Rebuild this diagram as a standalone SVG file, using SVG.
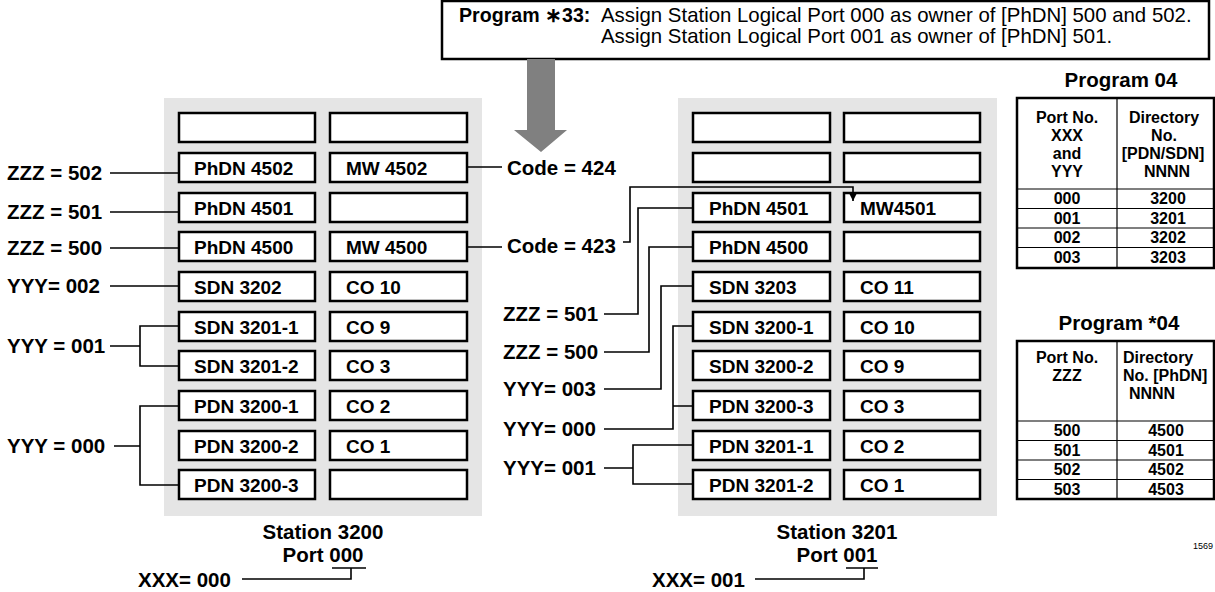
<svg xmlns="http://www.w3.org/2000/svg" width="1215" height="592" viewBox="0 0 1215 592">
<defs>
<style>
text{font-family:"Liberation Sans",Arial,Helvetica,sans-serif;fill:#000}
.panel{fill:#e5e5e5}
.box{fill:#fff;stroke:#000;stroke-width:2.5}
.bt{font-size:19px;font-weight:bold}
.lbl{font-size:20.5px;font-weight:bold}
.cap{font-size:20.5px;font-weight:bold;text-anchor:middle}
.conn{fill:none;stroke:#000;stroke-width:1.6}
.tt{font-size:16px;font-weight:bold;text-anchor:middle}
.tts{font-size:16px;font-weight:bold}
.tline{stroke:#000;stroke-width:1.2}
.tborder{fill:#fff;stroke:#000;stroke-width:2.5}
.top{font-size:20.4px}
</style>
<marker id="ah" viewBox="0 0 10 10" refX="10" refY="5" markerUnits="userSpaceOnUse" markerWidth="12" markerHeight="8" orient="auto">
<path d="M0,0 L10,5 L0,10 z" fill="#000"/>
</marker>
</defs>
<rect width="1215" height="592" fill="#fff"/>

<g id="program33">
<rect x="442" y="1" width="767" height="58" fill="#fff" stroke="#000" stroke-width="2.5"/>
<text x="459" y="22" font-size="19.6px" font-weight="bold">Program ∗33:</text>
<text x="601" y="22" class="top">Assign Station Logical Port 000 as owner of [PhDN] 500 and 502.</text>
<text x="601" y="43" class="top">Assign Station Logical Port 001 as owner of [PhDN] 501.</text>
</g>
<g id="arrow">
<polygon points="527,59 555,59 555,130 567,130 541,152 514,130 527,130" fill="#808080"/>
</g>

<g id="station-3200">
<rect class="panel" x="164" y="98" width="318" height="418"/>
<g id="s0-r1a"><rect class="box" x="179" y="113" width="136" height="29"/></g>
<g id="s0-r1b"><rect class="box" x="330" y="113" width="137" height="29"/></g>
<g id="s0-r2a"><rect class="box" x="179" y="153" width="136" height="29"/><text class="bt" x="194" y="175">PhDN 4502</text></g>
<g id="s0-r2b"><rect class="box" x="330" y="153" width="137" height="29"/><text class="bt" x="346" y="175">MW 4502</text></g>
<g id="s0-r3a"><rect class="box" x="179" y="193" width="136" height="29"/><text class="bt" x="194" y="215">PhDN 4501</text></g>
<g id="s0-r3b"><rect class="box" x="330" y="193" width="137" height="29"/></g>
<g id="s0-r4a"><rect class="box" x="179" y="232" width="136" height="29"/><text class="bt" x="194" y="254">PhDN 4500</text></g>
<g id="s0-r4b"><rect class="box" x="330" y="232" width="137" height="29"/><text class="bt" x="346" y="254">MW 4500</text></g>
<g id="s0-r5a"><rect class="box" x="179" y="272" width="136" height="29"/><text class="bt" x="194" y="294">SDN 3202</text></g>
<g id="s0-r5b"><rect class="box" x="330" y="272" width="137" height="29"/><text class="bt" x="346" y="294">CO 10</text></g>
<g id="s0-r6a"><rect class="box" x="179" y="312" width="136" height="29"/><text class="bt" x="194" y="334">SDN 3201-1</text></g>
<g id="s0-r6b"><rect class="box" x="330" y="312" width="137" height="29"/><text class="bt" x="346" y="334">CO 9</text></g>
<g id="s0-r7a"><rect class="box" x="179" y="351" width="136" height="29"/><text class="bt" x="194" y="373">SDN 3201-2</text></g>
<g id="s0-r7b"><rect class="box" x="330" y="351" width="137" height="29"/><text class="bt" x="346" y="373">CO 3</text></g>
<g id="s0-r8a"><rect class="box" x="179" y="391" width="136" height="29"/><text class="bt" x="194" y="413">PDN 3200-1</text></g>
<g id="s0-r8b"><rect class="box" x="330" y="391" width="137" height="29"/><text class="bt" x="346" y="413">CO 2</text></g>
<g id="s0-r9a"><rect class="box" x="179" y="431" width="136" height="29"/><text class="bt" x="194" y="453">PDN 3200-2</text></g>
<g id="s0-r9b"><rect class="box" x="330" y="431" width="137" height="29"/><text class="bt" x="346" y="453">CO 1</text></g>
<g id="s0-r10a"><rect class="box" x="179" y="470" width="136" height="29"/><text class="bt" x="194" y="492">PDN 3200-3</text></g>
<g id="s0-r10b"><rect class="box" x="330" y="470" width="137" height="29"/></g>
</g>

<g id="station-3201">
<rect class="panel" x="678" y="98" width="319" height="418"/>
<g id="s1-r1a"><rect class="box" x="693" y="113" width="137" height="29"/></g>
<g id="s1-r1b"><rect class="box" x="844" y="113" width="136" height="29"/></g>
<g id="s1-r2a"><rect class="box" x="693" y="153" width="137" height="29"/></g>
<g id="s1-r2b"><rect class="box" x="844" y="153" width="136" height="29"/></g>
<g id="s1-r3a"><rect class="box" x="693" y="193" width="137" height="29"/><text class="bt" x="709" y="215">PhDN 4501</text></g>
<g id="s1-r3b"><rect class="box" x="844" y="193" width="136" height="29"/><text class="bt" x="860" y="215">MW4501</text></g>
<g id="s1-r4a"><rect class="box" x="693" y="232" width="137" height="29"/><text class="bt" x="709" y="254">PhDN 4500</text></g>
<g id="s1-r4b"><rect class="box" x="844" y="232" width="136" height="29"/></g>
<g id="s1-r5a"><rect class="box" x="693" y="272" width="137" height="29"/><text class="bt" x="709" y="294">SDN 3203</text></g>
<g id="s1-r5b"><rect class="box" x="844" y="272" width="136" height="29"/><text class="bt" x="860" y="294">CO 11</text></g>
<g id="s1-r6a"><rect class="box" x="693" y="312" width="137" height="29"/><text class="bt" x="709" y="334">SDN 3200-1</text></g>
<g id="s1-r6b"><rect class="box" x="844" y="312" width="136" height="29"/><text class="bt" x="860" y="334">CO 10</text></g>
<g id="s1-r7a"><rect class="box" x="693" y="351" width="137" height="29"/><text class="bt" x="709" y="373">SDN 3200-2</text></g>
<g id="s1-r7b"><rect class="box" x="844" y="351" width="136" height="29"/><text class="bt" x="860" y="373">CO 9</text></g>
<g id="s1-r8a"><rect class="box" x="693" y="391" width="137" height="29"/><text class="bt" x="709" y="413">PDN 3200-3</text></g>
<g id="s1-r8b"><rect class="box" x="844" y="391" width="136" height="29"/><text class="bt" x="860" y="413">CO 3</text></g>
<g id="s1-r9a"><rect class="box" x="693" y="431" width="137" height="29"/><text class="bt" x="709" y="453">PDN 3201-1</text></g>
<g id="s1-r9b"><rect class="box" x="844" y="431" width="136" height="29"/><text class="bt" x="860" y="453">CO 2</text></g>
<g id="s1-r10a"><rect class="box" x="693" y="470" width="137" height="29"/><text class="bt" x="709" y="492">PDN 3201-2</text></g>
<g id="s1-r10b"><rect class="box" x="844" y="470" width="136" height="29"/><text class="bt" x="860" y="492">CO 1</text></g>
</g>

<g id="labels">
<text class="lbl" x="7" y="180">ZZZ = 502</text>
<text class="lbl" x="7" y="219">ZZZ = 501</text>
<text class="lbl" x="7" y="255">ZZZ = 500</text>
<text class="lbl" x="7" y="293">YYY= 002</text>
<text class="lbl" x="7" y="353">YYY = 001</text>
<text class="lbl" x="7" y="453">YYY = 000</text>
<text class="lbl" x="507" y="175">Code = 424</text>
<text class="lbl" x="507" y="253">Code = 423</text>
<text class="lbl" x="503" y="321">ZZZ = 501</text>
<text class="lbl" x="503" y="359">ZZZ = 500</text>
<text class="lbl" x="503" y="396">YYY= 003</text>
<text class="lbl" x="503" y="436">YYY= 000</text>
<text class="lbl" x="503" y="475">YYY= 001</text>
<text class="cap" x="323" y="539">Station 3200</text>
<text class="cap" x="323" y="562">Port 000</text>
<text class="cap" x="837" y="539">Station 3201</text>
<text class="cap" x="837" y="562">Port 001</text>
<text class="lbl" x="138" y="587">XXX= 000</text>
<text class="lbl" x="652" y="587">XXX= 001</text>
</g>

<g id="connectors">
<path class="conn" d="M110,173 H179"/>
<path class="conn" d="M110,212 H179"/>
<path class="conn" d="M110,248 H179"/>
<path class="conn" d="M110,286 H179"/>
<path class="conn" d="M110,346 H140 M179,326 H140 V366 H179"/>
<path class="conn" d="M114,446 H140 M179,406 H140 V485 H179"/>
<path class="conn" d="M467,167 H502"/>
<path class="conn" d="M467,247 H502"/>
<path class="conn" d="M623,242 H630 V187 H853 V201" marker-end="url(#ah)"/>
<path class="conn" d="M604,314 H638 V208 H693"/>
<path class="conn" d="M604,352 H649 V247 H693"/>
<path class="conn" d="M604,389 H661 V286 H693"/>
<path class="conn" d="M604,429 H673 V326 H693 M673,406 H693"/>
<path class="conn" d="M604,468 H633 M693,445 H633 V484 H693"/>
<path class="conn" d="M332,568 H366 M351,568 V579 H242"/>
<path class="conn" d="M846,568 H878 M864,568 V579 H755"/>
</g>

<g id="program04">
<text class="cap" x="1121" y="87">Program 04</text>
<rect class="tborder" x="1017" y="98" width="197" height="170"/>
<line class="tline" x1="1117" y1="98" x2="1117" y2="268"/>
<line class="tline" x1="1017" y1="189" x2="1214" y2="189"/>
<line class="tline" x1="1017" y1="208.5" x2="1214" y2="208.5"/>
<line class="tline" x1="1017" y1="228" x2="1214" y2="228"/>
<line class="tline" x1="1017" y1="247.5" x2="1214" y2="247.5"/>
<text class="tt" x="1067" y="123">Port No.</text>
<text class="tt" x="1067" y="141">XXX</text>
<text class="tt" x="1067" y="159">and</text>
<text class="tt" x="1067" y="177">YYY</text>
<text class="tt" x="1164" y="123">Directory</text>
<text class="tt" x="1164" y="141">No.</text>
<text class="tt" x="1163" y="159">[PDN/SDN]</text>
<text class="tt" x="1167" y="177">NNNN</text>
<text class="tt" x="1067" y="204">000</text><text class="tt" x="1168" y="204">3200</text>
<text class="tt" x="1067" y="224">001</text><text class="tt" x="1168" y="224">3201</text>
<text class="tt" x="1067" y="243">002</text><text class="tt" x="1168" y="243">3202</text>
<text class="tt" x="1067" y="263">003</text><text class="tt" x="1168" y="263">3203</text>
</g>

<g id="program-star04">
<text class="cap" x="1119" y="330">Program *04</text>
<rect class="tborder" x="1017" y="341" width="197" height="158"/>
<line class="tline" x1="1117" y1="341" x2="1117" y2="499"/>
<line class="tline" x1="1017" y1="421" x2="1214" y2="421"/>
<line class="tline" x1="1017" y1="440.5" x2="1214" y2="440.5"/>
<line class="tline" x1="1017" y1="460" x2="1214" y2="460"/>
<line class="tline" x1="1017" y1="479.5" x2="1214" y2="479.5"/>
<text class="tt" x="1067" y="363">Port No.</text>
<text class="tt" x="1067" y="381">ZZZ</text>
<text class="tts" x="1123" y="363">Directory</text>
<text class="tts" x="1123" y="381">No. [PhDN]</text>
<text class="tt" x="1152" y="399">NNNN</text>
<text class="tt" x="1067" y="436">500</text><text class="tt" x="1166" y="436">4500</text>
<text class="tt" x="1067" y="456">501</text><text class="tt" x="1166" y="456">4501</text>
<text class="tt" x="1067" y="475">502</text><text class="tt" x="1166" y="475">4502</text>
<text class="tt" x="1067" y="495">503</text><text class="tt" x="1166" y="495">4503</text>
</g>

<g id="figure-number">
<text x="1193" y="549" font-size="9px" fill="#333">1569</text>
</g>
</svg>
